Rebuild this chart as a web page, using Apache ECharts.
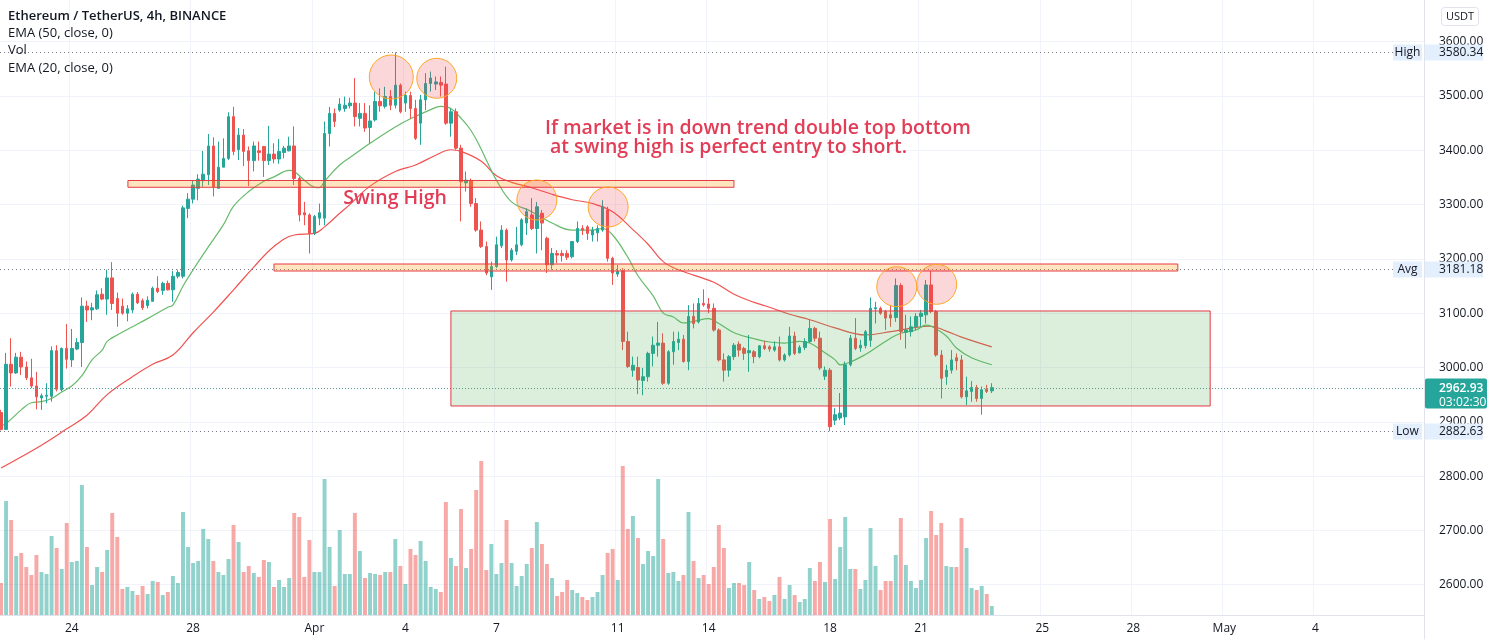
<!DOCTYPE html>
<html>
<head>
<meta charset="utf-8">
<script src="https://cdn.jsdelivr.net/npm/echarts@6/dist/echarts.min.js"></script>
<style>
html, body { margin: 0; padding: 0; background: #fff; }
#main { width: 1494px; height: 643px; }
</style>
</head>
<body>
<div id="main"></div>
<script>
// ETH/USDT 4h (Binance), first visible candle 2022-03-21 16:00 UTC
const startTime = Date.UTC(2022, 2, 21, 16)
const slotCount = 282 // candles + empty slots to the right

// [open, close, low, high]
const candles = [
  [2917,2886,2884,2922],[2886,3006,2885,3027],[3006,2990,2965,3054],[2990,3019,2988,3027],[3019,3001,2986,3029],
  [3001,2981,2977,3011],[2981,2966,2962,3016],[2966,2946,2923,2992],[2944,2948,2922,2952],[2947,2949,2934,2971],
  [2947,3031,2937,3039],[3031,2960,2956,3041],[2959,3035,2956,3037],[3035,3015,2998,3080],[3014,3035,3001,3071],
  [3034,3046,3032,3054],[3046,3113,3001,3129],[3113,3106,3084,3123],[3106,3110,3087,3119],[3108,3134,3106,3142],
  [3135,3126,3124,3146],[3126,3165,3097,3180],[3165,3118,3106,3194],[3127,3100,3075,3138],[3113,3100,3097,3127],
  [3100,3108,3085,3115],[3106,3135,3100,3138],[3135,3119,3117,3139],[3123,3110,3106,3127],[3114,3124,3109,3131],
  [3122,3146,3121,3149],[3146,3140,3137,3168],[3142,3155,3134,3158],[3155,3143,3142,3160],[3143,3168,3121,3178],
  [3168,3175,3164,3180],[3168,3294,3164,3298],[3293,3310,3275,3321],[3310,3336,3302,3345],[3330,3347,3308,3356],
  [3344,3356,3333,3399],[3355,3408,3336,3430],[3408,3333,3315,3424],[3330,3369,3330,3416],[3369,3385,3369,3422],
  [3385,3462,3382,3470],[3462,3398,3391,3480],[3401,3428,3382,3441],[3428,3398,3371,3439],[3399,3381,3334,3407],
  [3381,3408,3361,3416],[3399,3396,3381,3416],[3407,3381,3351,3408],[3381,3393,3373,3445],[3393,3384,3376,3413],
  [3384,3398,3375,3421],[3396,3404,3385,3408],[3399,3408,3398,3425],[3408,3348,3336,3444],[3348,3281,3269,3351],
  [3285,3281,3262,3305],[3281,3247,3210,3284],[3247,3278,3244,3281],[3275,3285,3262,3302],[3275,3431,3262,3453],
  [3431,3468,3407,3480],[3468,3453,3443,3477],[3474,3485,3471,3496],[3477,3483,3471,3499],[3482,3487,3477,3497],
  [3487,3462,3444,3533],[3459,3468,3444,3487],[3468,3441,3434,3487],[3442,3454,3413,3483],[3456,3490,3453,3508],
  [3490,3482,3471,3514],[3481,3499,3477,3517],[3499,3483,3474,3511],[3483,3520,3477,3580.34],[3520,3471,3468,3523],
  [3487,3501,3471,3508],[3501,3477,3458,3508],[3477,3422,3419,3493],[3450,3493,3410,3502],[3493,3523,3474,3542],
  [3523,3533,3508,3545],[3522,3526,3511,3536],[3525,3520,3499,3536],[3522,3450,3447,3554],[3450,3471,3425,3477],
  [3471,3404,3401,3477],[3404,3342,3269,3410],[3340,3345,3324,3361],[3344,3302,3296,3348],[3302,3253,3250,3312],
  [3253,3223,3220,3269],[3223,3174,3170,3232],[3167,3186,3143,3195],[3186,3226,3183,3241],[3224,3253,3220,3262],
  [3253,3198,3158,3256],[3198,3216,3195,3220],[3214,3226,3207,3259],[3226,3272,3223,3275],[3266,3287,3244,3293],
  [3281,3256,3253,3312],[3256,3296,3210,3305],[3284,3266,3216,3290],[3238,3189,3174,3241],[3189,3210,3180,3220],
  [3210,3207,3192,3216],[3210,3206,3195,3216],[3210,3203,3198,3216],[3204,3232,3201,3233],[3232,3256,3229,3269],
  [3256,3253,3244,3262],[3259,3247,3235,3262],[3244,3253,3232,3259],[3248,3256,3232,3262],[3253,3296,3250,3308],
  [3290,3201,3195,3296],[3201,3174,3152,3204],[3172,3177,3167,3189],[3178,3048,3032,3183],[3048,3002,2999,3066],
  [2995,3004,2983,3020],[3000,2977,2951,3020],[2976,2983,2949,2999],[2983,3026,2974,3029],[3026,3041,3002,3057],
  [3041,3045,3020,3084],[3045,2971,2968,3063],[2971,3029,2968,3032],[3029,3048,3005,3066],[3046,3052,3032,3066],
  [3052,3011,3009,3060],[3011,3094,2995,3115],[3094,3081,3072,3118],[3084,3118,3081,3128],[3118,3115,3112,3144],
  [3117,3109,3100,3128],[3109,3069,3066,3118],[3069,3014,3011,3072],[3014,2995,2974,3026],[2995,3020,2983,3023],
  [3020,3041,3014,3045],[3043,3032,3020,3048],[3035,3026,3014,3038],[3027,3031,2992,3060],[3029,3020,3008,3032],
  [3020,3040,3017,3041],[3040,3035,3032,3049],[3038,3034,3029,3041],[3032,3038,3029,3048],[3038,3014,3011,3057],
  [3014,3023,3011,3026],[3023,3058,3020,3075],[3058,3026,3023,3066],[3027,3037,3026,3041],[3037,3048,3032,3054],
  [3048,3072,3045,3088],[3072,3054,3048,3075],[3054,2999,2995,3066],[2984,2995,2977,3002],[2995,2891,2882.63,2999],
  [2903,2913,2894,2925],[2907,2916,2903,2953],[2909,3005,2894,3011],[3005,3054,3002,3060],[3054,3035,3032,3091],
  [3036,3041,3029,3051],[3040,3066,3035,3069],[3050,3109,3038,3129],[3108,3110,3081,3121],[3109,3100,3097,3112],
  [3103,3091,3069,3106],[3097,3091,3075,3115],[3092,3151,3084,3164],[3151,3066,3051,3155],[3065,3069,3035,3097],
  [3066,3075,3057,3094],[3075,3094,3069,3100],[3094,3100,3075,3106],[3097,3152,3081,3161],[3152,3103,3100,3178],
  [3103,3023,3020,3106],[3023,2980,2943,3032],[2983,2995,2968,3005],[2995,3014,2989,3032],[3018,3012,2995,3026],
  [3014,2946,2943,3023],[2946,2957,2931,2983],[2956,2963,2937,2975],[2963,2943,2937,2968],[2943,2959,2913,2965],
  [2960,2956,2953,2968],[2957,2962.93,2953,2971]
]

// volume, K ETH
const volumes = [
  32,114,95,59,62,48,40,60,43,41, 79,67,46,92,53,54,130,68,30,48, 43,65,102,78,26,28,24,20,29,21,
  34,33,20,23,39,32,103,68,52,54, 86,76,54,43,40,56,90,73,43,49, 42,38,55,53,28,35,28,37,102,98,
  38,75,43,43,136,68,29,85,41,41, 102,64,37,42,41,40,43,43,76,49, 31,66,60,74,54,28,26,23,113,57,
  49,106,47,66,125,154,45,71,41,
  52,95,52,29,39,51,67,93,71,51, 37,19,23,35,25,22,18,15,18,23, 40,62,66,35,149,86,99,77,51,64,
  59,136,76,42,43,34,40,103,54,37, 40,31,48,90,67,27,32,32,30,53, 25,16,18,14,20,38,16,30,20,13,
  16,47,34,53,33,96,36,68,98,46, 46,26,35,87,49,25,34,34,60,97, 50,34,27,35,77,104,80,92,49,48,
  48,97,67,27,25,29,21,9
]

// EMA lines: [candle index, price]
const ema20 = [[0,2893],[1,2897],[4,2922],[6,2935],[8,2937],[10,2943],[12,2955],[14,2966],[16,2985],[18,3014],
  [20,3032],[21,3048],[23,3060],[26,3075],[29,3090],[33,3111],[34,3115],[36,3150],[38,3180],[41,3222],
  [44,3263],[46,3297],[49,3324],[52,3343],[54,3351],[57,3363],[58,3361],[60,3345],[62,3332],[63,3331],
  [64,3343],[67,3373],[70,3393],[73,3413],[78,3443],[81,3458],[85,3475],[87,3481],[89,3477],[91,3459],
  [93,3436],[95,3402],[96,3382],[98,3345],[101,3305],[105,3287],[109,3266],[113,3253],[117,3253],[119,3256],
  [121,3244],[124,3203],[126,3169],[129,3132],[131,3100],[133,3093],[135,3082],[137,3085],[140,3090],[142,3081],
  [145,3064],[149,3053],[152,3047],[155,3045],[158,3048],[160,3045],[163,3027],[165,3014],[166,3005],[168,3010],
  [171,3024],[173,3036],[176,3054],[178,3063],[181,3069],[183,3078],[184,3076],[187,3058],[189,3036],[192,3018],
  [196,3005]]
const ema50 = [[0,2815],[8,2857],[13,2887],[17,2912],[21,2950],[26,2983],[30,3006],[34,3023],[38,3064],[42,3102],
  [46,3143],[50,3185],[54,3223],[58,3244],[62,3247],[64,3259],[67,3284],[69,3300],[73,3334],[78,3361],
  [82,3373],[86,3391],[89,3401],[91,3398],[95,3380],[98,3353],[101,3341],[105,3331],[109,3319],[113,3309],
  [117,3302],[121,3287],[125,3254],[128,3227],[131,3195],[134,3180],[141,3157],[145,3135],[149,3120],[152,3111],
  [156,3098],[160,3088],[165,3073],[171,3060],[176,3066],[181,3074],[184,3076],[187,3067],[190,3056],[196,3038]]

const tickDates = ['2022-03-24','2022-03-28','2022-04-01','2022-04-04','2022-04-07','2022-04-11','2022-04-14',
  '2022-04-18','2022-04-21','2022-04-25','2022-04-28','2022-05-01','2022-05-04']
const tickLabels = ['24','28','Apr','4','7','11','14','18','21','25','28','May','4']

const priceHigh = 3580.34
const priceAvg = 3181.18
const priceLow = 2882.63
const lastPrice = 2962.93
const countdown = '03:02:30'

// drawings (candle index, price)
const zones = [
  { from: 25.1, to: 145, top: 3344.4, bottom: 3331.9, fill: 'rgba(255,152,0,0.25)' },
  { from: 54, to: 232.8, top: 3190.6, bottom: 3177.7, fill: 'rgba(255,152,0,0.25)' },
  { from: 89, to: 239.2, top: 3104.1, bottom: 2929.1, fill: 'rgba(76,175,80,0.2)' }
]
const circles = [[77.2,3535,22],[86.2,3532.6,20],[106,3308.5,20],[120.1,3295.6,20],[177.2,3148.8,20],[185.1,3153.2,20]]

const pad = n => String(n).padStart(2, '0')
const cats = []
for (let i = 0; i < slotCount; i++) {
  const d = new Date(startTime + i * 4 * 3600 * 1000)
  cats.push(d.getUTCFullYear() + '-' + pad(d.getUTCMonth() + 1) + '-' + pad(d.getUTCDate()) + ' ' + pad(d.getUTCHours()) + ':00')
}
const tickMap = {}
tickDates.forEach((d, k) => { tickMap[d + ' 00:00'] = tickLabels[k] })
const isTick = (idx, val) => tickMap[val] !== undefined

const UP = '#26a69a', DOWN = '#ef5350'
const gridLeft = -1.5, gridWidth = 1425.5

const chart = echarts.init(document.getElementById('main'))
const option = {
  animation: false,
  backgroundColor: '#ffffff',
  textStyle: { fontFamily: 'Open Sans' },
  grid: [
    { left: gridLeft, width: gridWidth, top: -12.6, height: 651.6, outerBoundsMode: 'none' },
    { left: gridLeft, width: gridWidth, top: 0, height: 615, outerBoundsMode: 'none' }
  ],
  xAxis: [
    { type: 'category', gridIndex: 0, data: cats, show: false },
    {
      type: 'category', gridIndex: 1, data: cats,
      axisLine: { lineStyle: { color: '#e0e3eb' } },
      axisTick: { show: false },
      axisLabel: { interval: isTick, formatter: v => tickMap[v] || '', color: '#131722', fontSize: 12, margin: 8 },
      splitLine: { show: true, interval: isTick, lineStyle: { color: '#f0f3fa' } }
    }
  ],
  yAxis: [
    {
      type: 'value', gridIndex: 0, position: 'right', min: 2500, max: 3700, interval: 100,
      axisLine: { show: true, lineStyle: { color: '#e0e3eb' } },
      axisTick: { show: false },
      axisLabel: { margin: 15, color: '#131722', fontSize: 12, formatter: v => (v > 2500 && v < 3700) ? v.toFixed(2) : '' },
      splitLine: { show: true, showMinLine: false, showMaxLine: false, lineStyle: { color: '#f0f3fa' } }
    },
    { type: 'value', gridIndex: 1, min: 0, max: 615, show: false }
  ],
  series: [
    {
      name: 'Vol', type: 'bar', xAxisIndex: 1, yAxisIndex: 1, barWidth: '78%', z: 1,
      data: volumes.map((v, i) => ({
        value: v,
        itemStyle: { color: candles[i][1] >= candles[i][0] ? 'rgba(38,166,154,0.5)' : 'rgba(239,83,80,0.5)' }
      }))
    },
    {
      name: 'EMA 50', type: 'line', xAxisIndex: 0, yAxisIndex: 0, data: ema50, smooth: 0.4,
      showSymbol: false, lineStyle: { color: '#ef5350', width: 1.2 }, z: 3
    },
    {
      name: 'EMA 20', type: 'line', xAxisIndex: 0, yAxisIndex: 0, data: ema20, smooth: 0.4,
      showSymbol: false, lineStyle: { color: '#66bb6a', width: 1.2 }, z: 3
    },
    {
      name: 'ETHUSDT', type: 'candlestick', xAxisIndex: 0, yAxisIndex: 0, data: candles, barWidth: 3, z: 4,
      itemStyle: { color: UP, color0: DOWN, borderColor: UP, borderColor0: DOWN, borderWidth: 1 }
    }
  ]
}
chart.setOption(option)

// overlay drawings and price-scale labels
const xa = chart.convertToPixel({ xAxisIndex: 0 }, 0)
const xb = chart.convertToPixel({ xAxisIndex: 0 }, 1)
const px = (i, p) => [xa + (xb - xa) * i, chart.convertToPixel({ yAxisIndex: 0 }, p)]
const yOf = p => chart.convertToPixel({ yAxisIndex: 0 }, p)
const axisX = gridLeft + gridWidth
const g = []

zones.forEach(z => {
  const a = px(z.from, z.top), b = px(z.to, z.bottom)
  g.push({ type: 'rect', z: 20, shape: { x: a[0], y: a[1], width: b[0] - a[0], height: b[1] - a[1] },
    style: { fill: z.fill, stroke: '#e53945', lineWidth: 1 } })
})
circles.forEach(c => {
  const p = px(c[0], c[1])
  g.push({ type: 'circle', z: 21, shape: { cx: p[0], cy: p[1], r: c[2] },
    style: { fill: 'rgba(242,54,69,0.2)', stroke: '#ffa726', lineWidth: 1 } })
})

const noteColor = '#e23d57'
const noteFont = '600 19.5px "Open Sans"'
let p = px(67.7, 3312.1)
g.push({ type: 'text', z: 22, style: { x: p[0], y: p[1], text: 'Swing High', fill: noteColor,
  font: noteFont, textAlign: 'left', textVerticalAlign: 'middle' } })
p = px(107.6, 3439.2)
g.push({ type: 'text', z: 22, style: { x: p[0], y: p[1] - 10, text: 'If market is in down trend double top bottom\n at swing high is perfect entry to short.',
  fill: noteColor, font: noteFont, lineHeight: 19, textAlign: 'left', textVerticalAlign: 'top' } })

// high / avg / low lines with tags
;[['High', priceHigh], ['Avg', priceAvg], ['Low', priceLow]].forEach(([name, v]) => {
  const y = Math.round(yOf(v)) + 0.5
  g.push({ type: 'line', z: 15, shape: { x1: 0, y1: y, x2: 1394, y2: y }, style: { stroke: '#787b86', lineWidth: 1, lineDash: [1, 3] } })
  g.push({ type: 'rect', z: 30, shape: { x: 1393, y: y - 8, width: 29, height: 16 }, style: { fill: '#e3effd' } })
  g.push({ type: 'rect', z: 30, shape: { x: axisX + 1, y: y - 8, width: 58, height: 16 }, style: { fill: '#e3effd' } })
  g.push({ type: 'text', z: 31, style: { x: 1407.5, y: y, text: name, fill: '#131722', font: '12px "Open Sans"', textAlign: 'center', textVerticalAlign: 'middle' } })
  g.push({ type: 'text', z: 31, style: { x: axisX + 15, y: y, text: v.toFixed(2), fill: '#131722', font: '12px "Open Sans"', textAlign: 'left', textVerticalAlign: 'middle' } })
})

// last price
const yl = Math.round(yOf(lastPrice)) + 0.5
g.push({ type: 'line', z: 15, shape: { x1: 0, y1: yl, x2: axisX, y2: yl }, style: { stroke: '#5b9c96', lineWidth: 1, lineDash: [1, 2] } })
g.push({ type: 'rect', z: 30, shape: { x: axisX + 1, y: yl - 10, width: 62, height: 30, r: 2 }, style: { fill: UP } })
g.push({ type: 'text', z: 31, style: { x: axisX + 15, y: yl, text: lastPrice.toFixed(2), fill: '#fff', font: '600 12px "Open Sans"', textAlign: 'left', textVerticalAlign: 'middle' } })
g.push({ type: 'text', z: 31, style: { x: axisX + 15, y: yl + 14, text: countdown, fill: '#fff', font: '12px "Open Sans"', textAlign: 'left', textVerticalAlign: 'middle' } })

// currency tag
g.push({ type: 'rect', z: 30, shape: { x: 1441.5, y: 7.5, width: 37, height: 18, r: 3 }, style: { fill: '#fff', stroke: '#e0e3eb' } })
g.push({ type: 'text', z: 31, style: { x: 1460, y: 16.5, text: 'USDT', fill: '#131722', font: '11px "Open Sans"', textAlign: 'center', textVerticalAlign: 'middle' } })

// legend lines
const legend = [['Ethereum / TetherUS, 4h, BINANCE', 600], ['EMA (50, close, 0)', 400], ['Vol', 400], ['EMA (20, close, 0)', 400]]
legend.forEach(([t, w], k) => {
  g.push({ type: 'text', z: 31, style: { x: 8, y: 16 + k * 17.3, text: t, fill: '#131722', font: w + ' 13px "Open Sans"', textAlign: 'left', textVerticalAlign: 'middle' } })
})

chart.setOption({ graphic: g })
</script>
</body>
</html>
